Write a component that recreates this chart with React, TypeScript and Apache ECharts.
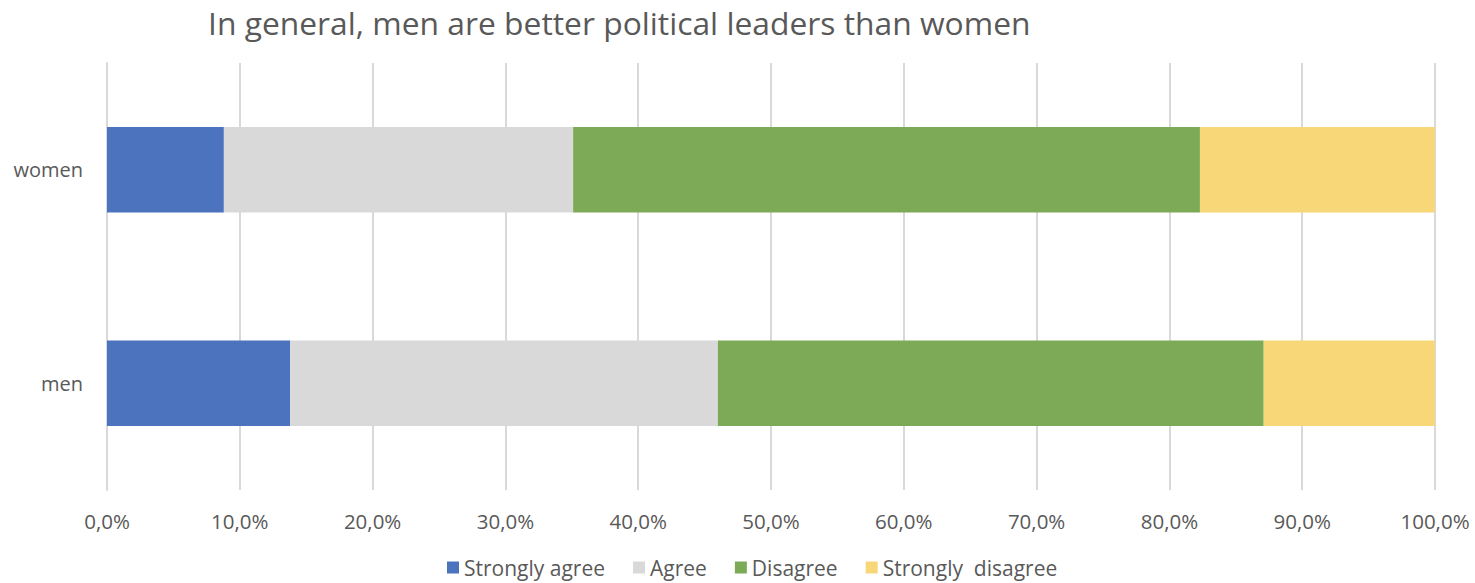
import React, { useEffect, useRef } from "react";
import * as echarts from "echarts";

const categories = ["men", "women"];
const seriesNames = ["Strongly agree", "Agree", "Disagree", "Strongly  disagree"];
const stronglyAgree = [13.8, 8.8];
const agree = [32.2, 26.3];
const disagree = [41.1, 47.2];
const stronglyDisagree = [12.9, 17.7];
const colors = ["#4B73BE", "#D9D9D9", "#7DAA57", "#F8D778"];
const titleText = "In general, men are better political leaders than women";

const FONT = "'Open Sans', 'Noto Sans', sans-serif";

export default function App() {
  const ref = useRef<HTMLDivElement>(null);
  useEffect(() => {
    document.body.style.margin = "0";
    const chart = echarts.init(ref.current!, null, { renderer: "svg" });
    const values = [stronglyAgree, agree, disagree, stronglyDisagree];
    chart.setOption({
      animation: false,
      textStyle: { fontFamily: FONT },
      title: {
        text: titleText,
        left: 203,
        top: 1,
        textStyle: { fontFamily: FONT, fontSize: 31.8, fontWeight: "normal", color: "#595959" },
      },
      legend: {
        bottom: 0,
        left: 442,
        itemWidth: 12,
        itemHeight: 12,
        itemGap: 28,
        icon: "rect",
        textStyle: { fontFamily: FONT, fontSize: 21, color: "#595959" },
        data: seriesNames,
      },
      grid: { left: 107, right: 40, top: 63, bottom: 93, containLabel: false },
      xAxis: {
        type: "value",
        min: 0,
        max: 100,
        interval: 10,
        axisLine: { show: false },
        axisTick: { show: false },
        axisLabel: {
          fontFamily: FONT,
          fontSize: 20.5,
          color: "#595959",
          margin: 20,
          formatter: (v: number) => v.toFixed(1).replace(".", ",") + "%",
        },
        splitLine: { show: true, lineStyle: { color: "#D9D9D9", width: 2 } },
      },
      yAxis: {
        type: "category",
        data: categories,
        axisLine: { show: true, lineStyle: { color: "#D9D9D9", width: 2 } },
        axisTick: { show: false },
        axisLabel: { fontFamily: FONT, fontSize: 20, color: "#595959", margin: 24 },
      },
      series: seriesNames.map((name, i) => ({
        name,
        type: "bar",
        stack: "total",
        barCategoryGap: "60%",
        data: values[i],
        itemStyle: { color: colors[i] },
      })),
    });
    return () => chart.dispose();
  }, []);
  return <div ref={ref} style={{ width: 1475, height: 583 }} />;
}
